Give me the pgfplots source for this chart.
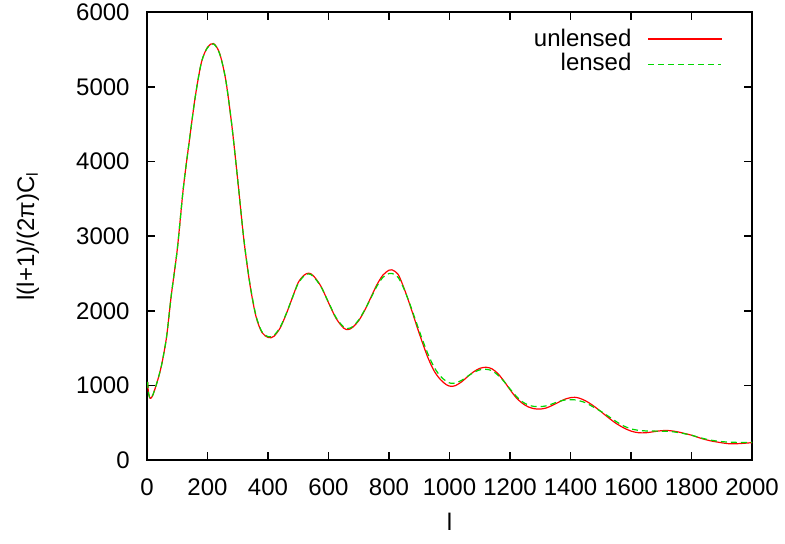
\documentclass[border=0pt,12pt]{standalone}
\usepackage{fontspec}
\setmainfont{Liberation Sans}
\usepackage{pgfplots}
\usepackage{pgfplotstable}
\pgfplotsset{compat=1.18}
\definecolor{gpred}{RGB}{255,0,0}
\definecolor{gpgreen}{RGB}{0,215,0}

\pgfplotstableread{
l v
2 1050
5 900
10 830
15 840
20 880
30 1000
40 1140
50 1310
65 1660
80 2200
100 2820
120 3640
140 4280
160 4880
180 5330
200 5530
220 5580
240 5450
260 5100
280 4500
300 3750
320 2960
340 2360
360 1930
380 1710
400 1645
410 1640
420 1660
440 1770
460 1955
480 2170
500 2380
520 2480
535 2505
550 2470
575 2330
600 2110
625 1900
650 1770
665 1750
680 1780
700 1870
720 2010
740 2180
760 2350
780 2480
800 2545
810 2550
830 2490
850 2300
870 2070
890 1820
910 1580
930 1360
950 1190
970 1080
990 1010
1005 990
1020 1000
1040 1050
1060 1120
1080 1185
1100 1230
1120 1245
1140 1225
1160 1160
1180 1060
1200 945
1220 840
1240 765
1260 715
1280 690
1300 685
1320 700
1340 735
1360 775
1380 815
1400 838
1415 842
1430 830
1450 795
1470 745
1490 685
1510 620
1530 555
1550 495
1575 435
1600 390
1625 368
1650 368
1680 385
1700 395
1720 398
1740 390
1760 375
1780 355
1800 335
1830 295
1860 262
1890 240
1920 222
1940 220
1960 223
1980 229
2000 235
}\unlensed

\pgfplotstableread{
l v
2 1050
5 900
10 830
15 840
20 880
30 1000
40 1140
50 1310
65 1660
80 2200
100 2820
120 3640
140 4280
160 4880
180 5330
200 5525
220 5575
240 5445
260 5100
280 4500
300 3750
320 2965
340 2370
360 1940
380 1720
400 1655
410 1652
420 1672
440 1780
460 1960
480 2170
500 2370
520 2470
535 2495
550 2460
575 2325
600 2115
625 1910
650 1785
665 1765
680 1790
700 1880
720 2015
740 2170
760 2330
780 2450
800 2500
810 2502
830 2450
850 2290
870 2080
890 1850
910 1620
930 1410
950 1240
970 1125
990 1055
1005 1030
1020 1035
1040 1070
1060 1125
1080 1175
1100 1210
1120 1218
1140 1200
1160 1140
1180 1055
1200 955
1220 860
1240 785
1260 740
1280 720
1300 718
1320 728
1340 755
1360 785
1380 805
1400 810
1415 808
1430 795
1450 770
1470 725
1490 680
1510 630
1530 575
1550 520
1575 460
1600 420
1625 400
1650 392
1680 390
1700 388
1720 387
1740 380
1760 368
1780 352
1800 335
1830 300
1860 272
1890 253
1920 243
1940 240
1960 238
1980 238
2000 240
}\lensed

\begin{document}
\begin{tikzpicture}
\begin{axis}[
  scale only axis,
  width=302.5pt, height=224pt,
  xmin=0, xmax=2000, ymin=0, ymax=6000,
  xtick={0,200,...,2000},
  ytick={0,1000,...,6000},
  scaled ticks=false,
  /pgf/number format/assume math mode=true,
  /pgf/number format/1000 sep={},
  tick align=inside,
  major tick length=4pt,
  axis line style={line width=1pt},
  every tick/.style={black, line width=0.8pt},
  tick label style={font=\normalsize},
  xticklabel style={anchor=center, inner sep=0pt, yshift=-13.4pt},
  yticklabel style={anchor=east, inner sep=0pt, xshift=-8.5pt},
  every axis x label/.style={at={(axis description cs:0.5,0)}, yshift=-31pt, anchor=center},
  every axis y label/.style={at={(axis description cs:0,0.5)}, xshift=-59.5pt, rotate=90, anchor=center},
  xlabel={l},
  ylabel={l(l+1)/(2π)C\textsubscript{l}},
  legend cell align=right,
  legend plot pos=right,
  legend style={draw=none, fill=none, at={(rel axis cs:1,1)}, anchor=north east,
    xshift=-12pt, yshift=-4pt, row sep=-2pt, font=\normalsize,
    /tikz/every odd column/.append style={column sep=6pt}},
]
\addlegendimage{legend image code/.code={\fill[gpred] (0pt,-0.25pt) rectangle (36.5pt,0.25pt);}}
\addlegendimage{legend image code/.code={\draw[gpgreen, line width=0.6pt, dash pattern=on 3pt off 2pt] (0pt,0pt) -- (36.5pt,0pt);}}
\addplot[color=gpred, line width=0.6pt, smooth, tension=0.5, forget plot] table[x=l,y=v] {\unlensed};
\addplot[color=gpgreen, line width=0.6pt, dash pattern=on 3pt off 2pt, smooth, tension=0.5, forget plot] table[x=l,y=v] {\lensed};
\legend{unlensed, lensed}
\end{axis}
\pgfresetboundingbox
\path (current axis.south west) ++(-73.5pt,-41.4pt) rectangle ++(392.5pt,271.5pt);
\end{tikzpicture}
\end{document}
